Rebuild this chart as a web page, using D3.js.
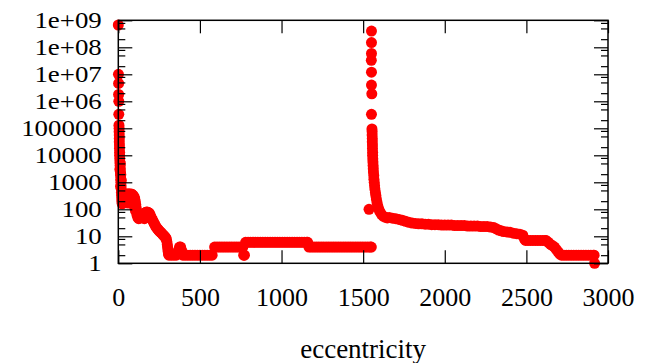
<!DOCTYPE html>
<html>
<head>
<meta charset="utf-8">
<script src="https://cdn.jsdelivr.net/npm/d3@7"></script>
<style>
  body { margin: 0; background: #fff; }
  svg { display: block; }
  text { font-family: "Liberation Serif", "Times New Roman", serif; fill: #000; }
</style>
</head>
<body>
<svg id="chart" width="648" height="363"></svg>
<script>
// Axis ticks
const xTickValues = [0, 500, 1000, 1500, 2000, 2500, 3000];
const yTickValues = [1, 1e1, 1e2, 1e3, 1e4, 1e5, 1e6, 1e7, 1e8, 1e9];
const yTickLabels = ["1", "10", "100", "1000", "10000", "100000", "1e+06", "1e+07", "1e+08", "1e+09"];
const yMinorSteps = [2, 5, 8];
const xTitle = "eccentricity";

// Head: very large values at the smallest eccentricities, then a fast decay
const headEcc = [0, 1, 2, 2, 3, 3,
  4, 5, 5, 6, 6, 6, 7, 7, 8, 8, 9, 10, 11, 12, 13, 14, 15, 16, 17, 18, 19, 20, 21, 22, 24,
  12, 15, 18, 10, 14];
const headVal = [6.7e8, 1.0e7, 4.6e6, 1.8e6, 1.0e6, 3.3e5,
  130000, 100000, 75000, 56000, 42000, 32000, 24000, 18000, 13000, 10000, 7500, 5600, 4200, 3200, 2400, 1800, 1300, 1000, 750, 560, 420, 320, 240, 190, 160,
  5000, 2000, 1200, 3000, 700];

// Shoulder and decay down to the low plateau
const decayEcc = [26, 30, 35, 40, 45, 50, 55, 60, 65, 70, 75, 80, 85, 90, 95, 100, 104, 107, 110, 112,
  40, 50, 60, 70, 80, 90, 100, 105,
  115, 120, 125, 130, 135, 140, 145, 150,
  155, 160, 165, 170, 175, 180, 185, 190, 195, 200, 205,
  160, 170, 180, 190,
  210, 215, 220, 225, 230, 235, 240, 245, 250, 255, 260, 265, 270, 275, 280, 285, 290, 294, 297, 300, 302, 304, 306, 308];
const decayVal = [250, 300, 340, 360, 330, 360, 370, 350, 380, 360, 340, 370, 350, 330, 300, 260, 200, 150, 110, 80,
  200, 180, 170, 180, 200, 180, 120, 90,
  60, 50, 45, 50, 48, 55, 60, 55,
  65, 70, 75, 78, 80, 78, 75, 72, 62, 52, 45,
  45, 50, 55, 50,
  40, 34, 30, 26, 23, 21, 19, 17.5, 16, 15, 14, 13, 12, 11, 10.5, 9.5, 9, 8, 6.5, 5, 4, 3.2, 2.6, 2.2];

// Low plateau between the two peaks
const plateauEcc = [310, 325, 340, 355, 368, 375, 382, 388, 395, 410, 425, 440, 455, 470, 485, 500, 515, 530, 545, 560, 575,
  590, 605, 620, 635, 650, 665, 680, 695, 710, 725, 740, 755, 763,
  768, 773,
  780, 795, 810, 825, 840, 855, 870, 885, 900, 915, 930, 945, 960, 975, 990, 1005, 1020, 1035, 1050, 1065, 1080, 1095, 1110, 1125, 1140, 1155, 1160,
  1168, 1183, 1198, 1213, 1228, 1243, 1258, 1273, 1288, 1303, 1318, 1333, 1348, 1363, 1378, 1393, 1408, 1423, 1438, 1453, 1468, 1483, 1498, 1513, 1528, 1543, 1550];
const plateauVal = [2, 2, 2, 2, 3, 4, 4, 3, 2, 2, 2, 2, 2, 2, 2, 2, 2, 2, 2, 2, 2,
  4, 4, 4, 4, 4, 4, 4, 4, 4, 4, 4, 4, 4,
  2, 2,
  6, 6, 6, 6, 6, 6, 6, 6, 6, 6, 6, 6, 6, 6, 6, 6, 6, 6, 6, 6, 6, 6, 6, 6, 6, 6, 6,
  4, 4, 4, 4, 4, 4, 4, 4, 4, 4, 4, 4, 4, 4, 4, 4, 4, 4, 4, 4, 4, 4, 4, 4, 4, 4, 4];

// Second peak near eccentricity 1550
const spikeEcc = [1536,
  1551, 1551, 1551, 1550, 1551, 1551, 1553, 1551,
  1554, 1555, 1555, 1556, 1556, 1557, 1557, 1558, 1558, 1559, 1560, 1561, 1562, 1563, 1565, 1566, 1568, 1570, 1572, 1575, 1578, 1581, 1585, 1590, 1596, 1603, 1612, 1622, 1634, 1648];
const spikeVal = [100,
  4.0e8, 1.5e8, 5.9e7, 3.3e7, 1.2e7, 4.0e6, 1.9e6, 3.3e5,
  95000, 75000, 56000, 42000, 32000, 24000, 18000, 13000, 10000, 7500, 5600, 4200, 3200, 2400, 1800, 1300, 1000, 750, 560, 420, 320, 240, 180, 130, 100, 80, 65, 56, 51, 48];

// Long tail towards the largest eccentricities
const tailEcc = [1660, 1680, 1700, 1720, 1740, 1760, 1780, 1800, 1820, 1840, 1860, 1880, 1900, 1920, 1940, 1960, 1980, 2000,
  2020, 2040, 2060, 2080, 2100, 2120, 2140, 2160, 2180, 2200, 2220, 2240, 2260, 2280, 2300, 2315, 2330, 2345, 2360, 2380,
  2400, 2420, 2440, 2460, 2478, 2488, 2495,
  2510, 2525, 2540, 2555, 2570, 2585, 2600, 2615, 2620, 2635, 2648, 2660, 2672, 2684, 2695, 2705,
  2715, 2730, 2745, 2760, 2775, 2790, 2805, 2820, 2835, 2850, 2865, 2880, 2895, 2910, 2915,
  2918];
const tailVal = [50, 47, 45, 42, 39, 36, 33, 31, 30, 29, 29, 28, 28, 27, 27, 27, 26, 26,
  26, 26, 25, 25, 25, 25, 24, 24, 24, 24, 23, 23, 23, 22, 21, 19, 17, 16, 15, 14.5,
  14, 13, 12.5, 12, 11, 8, 7,
  7, 7, 7, 7, 7, 7, 7, 7, 7, 6, 5, 4.5, 4, 3.2, 2.6, 2.2,
  2, 2, 2, 2, 2, 2, 2, 2, 2, 2, 2, 2, 2, 2, 2,
  1];

const segments = [[headEcc, headVal], [decayEcc, decayVal], [plateauEcc, plateauVal], [spikeEcc, spikeVal], [tailEcc, tailVal]];
const points = segments.flatMap(([xs, ys]) => xs.map((e, i) => ({ ecc: e, val: ys[i] })));

const svg = d3.select("#chart");
const plotLeft = 118.3, plotRight = 608, plotTop = 20.3, plotBottom = 263.3;

const x = d3.scaleLinear().domain([0, 3000]).range([plotLeft, plotRight]);
const y = d3.scaleLog().domain([1, 1e9]).range([plotBottom, plotTop]);

const yMinorValues = [];
yTickValues.slice(0, -1).forEach(d => yMinorSteps.forEach(m => yMinorValues.push(d * m)));

// Points
svg.append("g")
  .selectAll("circle")
  .data(points)
  .join("circle")
  .attr("cx", d => x(d.ecc))
  .attr("cy", d => y(d.val))
  .attr("r", 5.5)
  .attr("fill", "#ff0000");

// Tick styling; labels are set in a compact size and widened slightly
function styleAxis(g, fontSize, widen) {
  g.select(".domain").remove();
  g.selectAll(".tick line").attr("stroke", "#000").attr("stroke-width", 1.2);
  g.selectAll("text")
    .attr("font-size", fontSize).attr("fill", "#000")
    .style("font-family", '"Liberation Serif", "Times New Roman", serif')
    .each(function () {
      if (widen && this.textContent) {
        const w = this.getComputedTextLength();
        d3.select(this).attr("textLength", w * widen).attr("lengthAdjust", "spacingAndGlyphs");
      }
    });
}

// Bottom axis with labels
svg.append("g").attr("transform", `translate(0,${plotBottom})`)
  .call(d3.axisBottom(x).tickValues(xTickValues).tickFormat(d3.format("d"))
    .tickSizeInner(-13).tickSizeOuter(0).tickPadding(25))
  .call(g => styleAxis(g, 25, 1.04));

// Top axis (ticks only)
svg.append("g").attr("transform", `translate(0,${plotTop})`)
  .call(d3.axisTop(x).tickValues(xTickValues).tickFormat("")
    .tickSizeInner(-13).tickSizeOuter(0))
  .call(g => styleAxis(g, 25, 0));

// Left axis with labels
svg.append("g").attr("transform", `translate(${plotLeft},0)`)
  .call(d3.axisLeft(y).tickValues(yTickValues).tickFormat((d, i) => yTickLabels[i])
    .tickSizeInner(-14).tickSizeOuter(0).tickPadding(16.5))
  .call(g => styleAxis(g, 24, 1.12));
svg.append("g").attr("transform", `translate(${plotLeft},0)`)
  .call(d3.axisLeft(y).tickValues(yMinorValues).tickFormat("")
    .tickSizeInner(-7).tickSizeOuter(0))
  .call(g => styleAxis(g, 24, 0));

// Right axis (ticks only)
svg.append("g").attr("transform", `translate(${plotRight},0)`)
  .call(d3.axisRight(y).tickValues(yTickValues).tickFormat("")
    .tickSizeInner(-14).tickSizeOuter(0))
  .call(g => styleAxis(g, 24, 0));
svg.append("g").attr("transform", `translate(${plotRight},0)`)
  .call(d3.axisRight(y).tickValues(yMinorValues).tickFormat("")
    .tickSizeInner(-7).tickSizeOuter(0))
  .call(g => styleAxis(g, 24, 0));

// Frame
svg.append("rect")
  .attr("x", plotLeft).attr("y", plotTop)
  .attr("width", plotRight - plotLeft).attr("height", plotBottom - plotTop)
  .attr("fill", "none").attr("stroke", "#000").attr("stroke-width", 1.5);

// Axis title
svg.append("text")
  .attr("x", (plotLeft + plotRight) / 2).attr("y", 358)
  .attr("text-anchor", "middle")
  .attr("font-size", 27)
  .text(xTitle);
</script>
</body>
</html>
